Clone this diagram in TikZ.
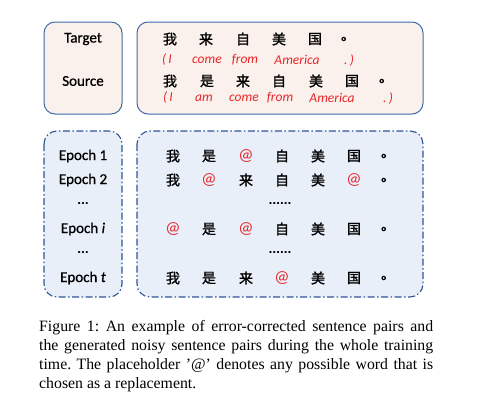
\documentclass[tikz,border=0pt]{standalone}
\usepackage{fontspec}
\setmainfont{Liberation Serif}
\setsansfont{Carlito}
\newfontfamily\cjk[FakeBold=1.2]{Noto Sans CJK SC}
\newfontfamily\lblfont[FakeBold=0.8]{Carlito}
\definecolor{beigefill}{HTML}{FBF1EC}
\definecolor{bluefill}{HTML}{E9EFF8}
\definecolor{boxblue}{HTML}{3E6AA8}
\definecolor{dashblue}{HTML}{2F5597}
\definecolor{redtext}{HTML}{E8262A}
\tikzset{
  solidbox/.style={draw=boxblue, line width=1pt, fill=beigefill, rounded corners=11pt},
  dashbox/.style={draw=dashblue, line width=1.1pt, fill=bluefill, rounded corners=13pt,
    dash pattern=on 7pt off 2.5pt on 1.5pt off 2.5pt},
  lbl/.style={font=\lblfont\fontsize{15}{17}\selectfont, inner sep=0pt, anchor=center},
  zh/.style={font=\cjk\fontsize{14}{16}\selectfont, inner sep=0pt, anchor=center},
  en/.style={font=\sffamily\itshape\fontsize{13.5}{15}\selectfont, text=redtext, inner sep=0pt, anchor=center},
  atsign/.style={font=\sffamily\fontsize{17}{18}\selectfont, text=redtext, inner sep=0pt, anchor=center},
  captext/.style={font=\frenchspacing\fontsize{15.8}{19}\selectfont, inner sep=0pt, anchor=base west},
}
\begin{document}
\begin{tikzpicture}[x=1pt,y=-1pt]
\useasboundingbox (0,0) rectangle (479,415);
% boxes
\draw[solidbox] (44,22) rectangle (122,114);
\draw[solidbox] (137,22) rectangle (423,114);
\draw[dashbox] (44,131) rectangle (122,297);
\draw[dashbox] (137,131) rectangle (423,297);
% top labels
\node[lbl] (tgt) at (83,39) {Target};
\node[lbl] (src) at (83,81) {Source};
% target row
\node[zh] (t1) at (170,39) {我};
\node[zh] (t2) at (206,39) {来};
\node[zh] (t3) at (243,39) {自};
\node[zh] (t4) at (279,39) {美};
\node[zh] (t5) at (315,39) {国};
\node[zh] (t6) at (348,39) {。};
\node[en] (te1) at (167,60) {(\,I};
\node[en] (te2) at (207,60) {come};
\node[en] (te3) at (245,60) {from};
\node[en] (te4) at (297,60) {America};
\node[en] (te5) at (349,60) {.\,)};
% source row
\node[zh] (s1) at (170,81) {我};
\node[zh] (s2) at (207,81) {是};
\node[zh] (s3) at (243,81) {来};
\node[zh] (s4) at (279,81) {自};
\node[zh] (s5) at (316,81) {美};
\node[zh] (s6) at (352,81) {国};
\node[zh] (s7) at (386,81) {。};
\node[en] (se1) at (168,98) {(\,I};
\node[en] (se2) at (204,98) {am};
\node[en] (se3) at (244,98) {come};
\node[en] (se4) at (280,98) {from};
\node[en] (se5) at (332,98) {America};
\node[en] (se6) at (388,98) {.\,)};
% epochs
\node[lbl] (e1) at (83,156) {Epoch 1};
\node[lbl] (e2) at (83,180) {Epoch 2};
\node[lbl] (ed1) at (83,203) {...};
\node[lbl] (ei) at (83,229) {Epoch \textit{i}};
\node[lbl] (ed2) at (83,252) {...};
\node[lbl] (et) at (83,278) {Epoch \textit{t}};
% row epoch 1
\node[zh] (a1) at (173,156) {我};
\node[zh] (a2) at (209,156) {是};
\node[atsign] (a3) at (246,156) {@};
\node[zh] (a4) at (282,156) {自};
\node[zh] (a5) at (318,156) {美};
\node[zh] (a6) at (354,156) {国};
\node[zh] (a7) at (388,156) {。};
% row epoch 2
\node[zh] (b1) at (173,180) {我};
\node[atsign] (b2) at (209,180) {@};
\node[zh] (b3) at (246,180) {来};
\node[zh] (b4) at (282,180) {自};
\node[zh] (b5) at (318,180) {美};
\node[atsign] (b6) at (354,180) {@};
\node[zh] (b7) at (388,180) {。};
\node[lbl] (dd1) at (280,203) {......};
% row epoch i
\node[atsign] (c1) at (173,229) {@};
\node[zh] (c2) at (209,229) {是};
\node[atsign] (c3) at (246,229) {@};
\node[zh] (c4) at (282,229) {自};
\node[zh] (c5) at (318,229) {美};
\node[zh] (c6) at (354,229) {国};
\node[zh] (c7) at (388,229) {。};
\node[lbl] (dd2) at (280,252) {......};
% row epoch t
\node[zh] (d1) at (173,278) {我};
\node[zh] (d2) at (209,278) {是};
\node[zh] (d3) at (246,278) {来};
\node[atsign] (d4) at (282,278) {@};
\node[zh] (d5) at (318,278) {美};
\node[zh] (d6) at (354,278) {国};
\node[zh] (d7) at (388,278) {。};
% caption
\node[captext] (cl1) at (39,331) {\makebox[394pt][s]{Figure 1: An example of error-corrected sentence pairs and}};
\node[captext] (cl2) at (39,350) {\makebox[394pt][s]{the generated noisy sentence pairs during the whole training}};
\node[captext] (cl3) at (39,369) {\makebox[394pt][s]{time. The placeholder '@' denotes any possible word that is}};
\node[captext] (cl4) at (39,388) {chosen as a replacement.};
\end{tikzpicture}
\end{document}
